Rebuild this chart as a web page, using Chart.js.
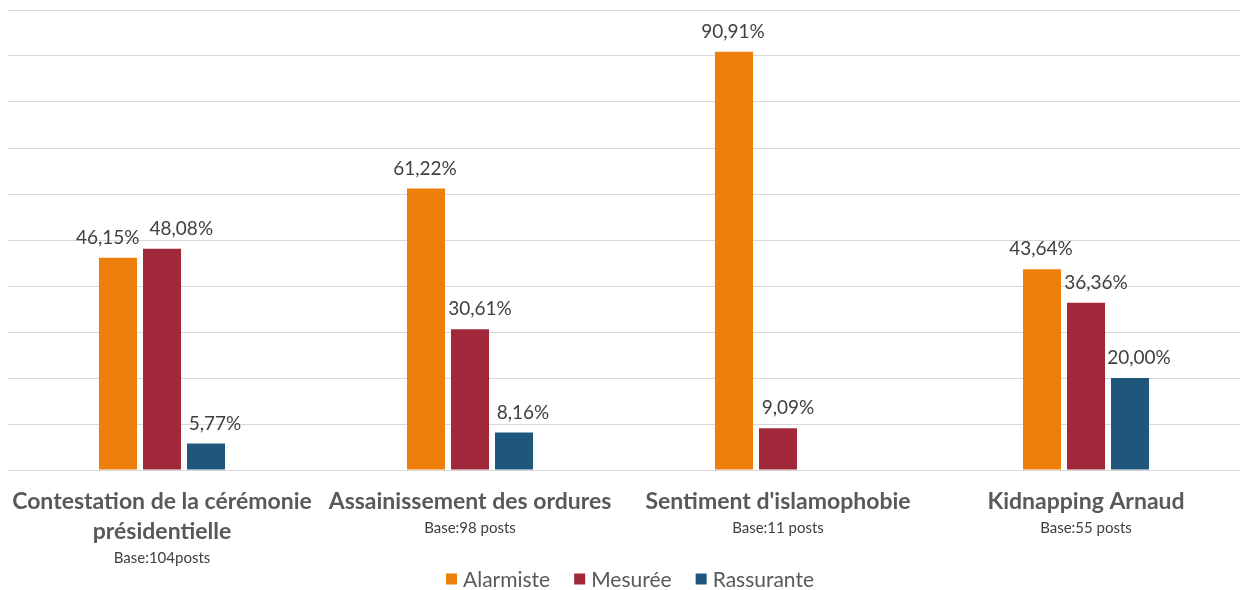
<!DOCTYPE html>
<html>
<head>
<meta charset="utf-8">
<script src="https://cdn.jsdelivr.net/npm/chart.js@4"></script>
<style>
  body { margin: 0; background: #fff; }
  #wrap { width: 1240px; height: 590px; }
</style>
</head>
<body>
<div id="wrap"><canvas id="myChart" width="1240" height="590"></canvas></div>
<script>
const categories = [
    ['Contestation de la cérémonie', 'présidentielle'],
    ['Assainissement des ordures'],
    ["Sentiment d'islamophobie"],
    ['Kidnapping Arnaud']
]
const bases = ['Base:104posts', 'Base:98 posts', 'Base:11 posts', 'Base:55 posts']
const seriesNames = ['Alarmiste', 'Mesurée', 'Rassurante']
const alarmiste = [46.15, 61.22, 90.91, 43.64]
const mesuree = [48.08, 30.61, 9.09, 36.36]
const rassurante = [5.77, 8.16, null, 20.00]
const colors = ['#EF7F0B', '#A0283A', '#1F577C']

const fmt = v => v.toFixed(2).replace('.', ',') + '%'

// value labels above bars, pushed apart a bit when they collide
const valueLabels = {
    id: 'valueLabels',
    afterDatasetsDraw(chart) {
        const c = chart.ctx
        c.save()
        c.font = '19px Lato'
        c.fillStyle = '#404040'
        c.textAlign = 'center'
        c.textBaseline = 'middle'
        const nudge = [-1, 10, 9]
        categories.forEach((_, j) => {
            const items = []
            chart.data.datasets.forEach((ds, i) => {
                const v = ds.data[j]
                if (v === null) return
                const bar = chart.getDatasetMeta(i).data[j]
                const t = fmt(v)
                items.push({ t, x: bar.x + nudge[i], y: bar.y - 20, w: c.measureText(t).width })
            })
            for (let k = 1; k < items.length; k++) {
                const a = items[k - 1], b = items[k]
                if (Math.abs(a.y - b.y) < 20) {
                    const over = (a.x + a.w / 2 + 10) - (b.x - b.w / 2)
                    if (over > 0) { a.x -= over / 2; b.x += over / 2 }
                }
            }
            items.forEach(it => c.fillText(it.t, it.x, it.y))
        })
        c.restore()
    }
}

// category labels + legend under the plot
const bottomText = {
    id: 'bottomText',
    afterDraw(chart) {
        const c = chart.ctx
        const xs = chart.scales.x
        const area = chart.chartArea
        c.save()
        c.textAlign = 'center'
        c.textBaseline = 'middle'
        categories.forEach((lines, i) => {
            const x = xs.getPixelForValue(i)
            let y = area.bottom + 32
            c.font = 'bold 23px Lato'
            c.fillStyle = '#595959'
            lines.forEach(l => {
                c.fillText(l, x, y)
                y += 30
            })
            c.font = '15px Lato'
            c.fillStyle = '#404040'
            c.fillText(bases[i], x, y - 4)
        })

        // legend
        c.font = '21px Lato'
        c.textAlign = 'left'
        const box = 11, gap = 6, space = 24
        const widths = seriesNames.map(n => box + gap + c.measureText(n).width)
        const total = widths.reduce((a, b) => a + b, 0) + space * (widths.length - 1)
        let lx = (area.left + area.right) / 2 - total / 2 + 6
        const ly = 579
        seriesNames.forEach((n, i) => {
            c.fillStyle = colors[i]
            c.fillRect(lx, ly - box / 2, box, box)
            c.fillStyle = '#595959'
            c.fillText(n, lx + box + gap, ly + 1)
            lx += widths[i] + space
        })
        c.restore()
    }
}

const ctx = document.getElementById('myChart')

new Chart(ctx, {
    type: 'bar',
    data: {
        labels: categories,
        datasets: [alarmiste, mesuree, rassurante].map((d, i) => ({
            label: seriesNames[i],
            data: d,
            backgroundColor: colors[i],
            categoryPercentage: 0.4286,
            barPercentage: 0.864
        }))
    },
    options: {
        responsive: false,
        animation: false,
        layout: { padding: { left: 8, right: 0, top: 10, bottom: 120 } },
        plugins: {
            legend: { display: false },
            tooltip: { enabled: false }
        },
        scales: {
            x: { display: false },
            y: {
                min: 0,
                max: 100,
                ticks: { display: false, stepSize: 10 },
                grid: { color: '#d9d9d9', drawTicks: false },
                border: { display: false }
            }
        }
    },
    plugins: [valueLabels, bottomText]
})
</script>
</body>
</html>
